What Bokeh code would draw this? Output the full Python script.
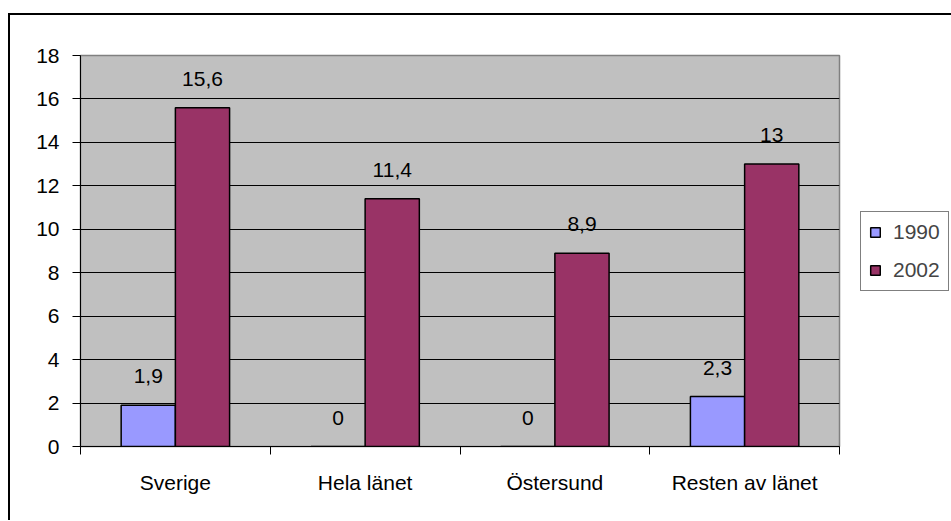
from bokeh.plotting import figure
from bokeh.models import ColumnDataSource, FixedTicker, Legend, LegendItem, Range1d
from bokeh.transform import dodge
from bokeh.core.properties import value
from bokeh.embed import file_html
from bokeh.resources import INLINE
import numpy as np

categories = ["Sverige", "Hela länet", "Östersund", "Resten av länet"]
series_names = ["1990", "2002"]
values_1990 = [1.9, 0, 0, 2.3]
values_2002 = [15.6, 11.4, 8.9, 13]
y_ticks = [0, 2, 4, 6, 8, 10, 12, 14, 16, 18]

FONT = "Liberation Sans"
FS = "21px"
BAR_W = 1 / 3.5

def fmt(v):
    return f"{v:g}".replace(".", ",")

x_centers = np.arange(len(categories)) + 0.5
src = ColumnDataSource(dict(
    x=x_centers,
    v1990=values_1990,
    v2002=values_2002,
    l1990=[fmt(v) for v in values_1990],
    l2002=[fmt(v) for v in values_2002],
))

p = figure(
    frame_width=759, frame_height=391,
    x_range=Range1d(0, len(categories)), y_range=Range1d(0, 18),
    output_backend="svg", toolbar_location=None,
    min_border_left=70, min_border_top=40, min_border_right=110, min_border_bottom=74,
)
p.margin = (13, 0, 0, 8)
p.styles = {"border-left": "2px solid black", "border-top": "2px solid black"}
p.background_fill_color = "#C0C0C0"
p.border_fill_color = "white"
p.outline_line_color = "#808080"
p.outline_line_width = 1.5

r1 = p.vbar(x=dodge("x", -BAR_W / 2, range=p.x_range), top="v1990", width=BAR_W, source=src,
            fill_color="#9999FF", line_color="black", line_width=1.5)
r2 = p.vbar(x=dodge("x", BAR_W / 2, range=p.x_range), top="v2002", width=BAR_W, source=src,
            fill_color="#993366", line_color="black", line_width=1.5)

p.text(x=dodge("x", -BAR_W / 2, range=p.x_range), y="v1990", text="l1990", source=src,
       text_font=value(FONT), text_font_size=FS, text_align="center", text_baseline="middle",
       y_offset=-29, text_color="black")
p.text(x=dodge("x", BAR_W / 2, range=p.x_range), y="v2002", text="l2002", source=src,
       text_font=value(FONT), text_font_size=FS, text_align="center", text_baseline="middle",
       y_offset=-29, text_color="black")

# grid
p.xgrid.visible = False
p.ygrid.ticker = FixedTicker(ticks=y_ticks)
p.ygrid.grid_line_color = "black"
p.ygrid.grid_line_width = 1

# y axis
p.yaxis.ticker = FixedTicker(ticks=y_ticks)
p.yaxis.major_tick_in = 0
p.yaxis.major_tick_out = 8
p.yaxis.minor_tick_line_color = None
p.yaxis.major_label_standoff = 13
p.yaxis.major_label_text_font = FONT
p.yaxis.major_label_text_font_size = FS
p.yaxis.major_label_text_color = "black"
p.yaxis.axis_line_color = "black"
p.yaxis.major_tick_line_color = "black"

# x axis
p.xaxis.ticker = FixedTicker(ticks=list(x_centers), minor_ticks=list(range(len(categories) + 1)))
p.xaxis.major_label_overrides = {float(x): c for x, c in zip(x_centers, categories)}
p.xaxis.major_tick_in = 0
p.xaxis.major_tick_out = 0
p.xaxis.minor_tick_in = 0
p.xaxis.minor_tick_out = 8
p.xaxis.minor_tick_line_color = "black"
p.xaxis.major_label_standoff = 16
p.xaxis.major_label_text_font = FONT
p.xaxis.major_label_text_font_size = FS
p.xaxis.major_label_text_color = "black"
p.xaxis.axis_line_color = "black"

legend = Legend(items=[LegendItem(label=series_names[0], renderers=[r1]),
                       LegendItem(label=series_names[1], renderers=[r2])],
                location="center_left")
legend.margin = 21
legend.padding = 8
legend.spacing = 14
legend.glyph_width = 12
legend.glyph_height = 12
legend.label_standoff = 12
legend.label_text_font = FONT
legend.label_text_font_size = FS
legend.border_line_color = "black"
legend.border_line_width = 1
legend.background_fill_color = "white"
legend.background_fill_alpha = 1
p.add_layout(legend, "right")

open("out.html", "w").write(file_html(p, INLINE))
